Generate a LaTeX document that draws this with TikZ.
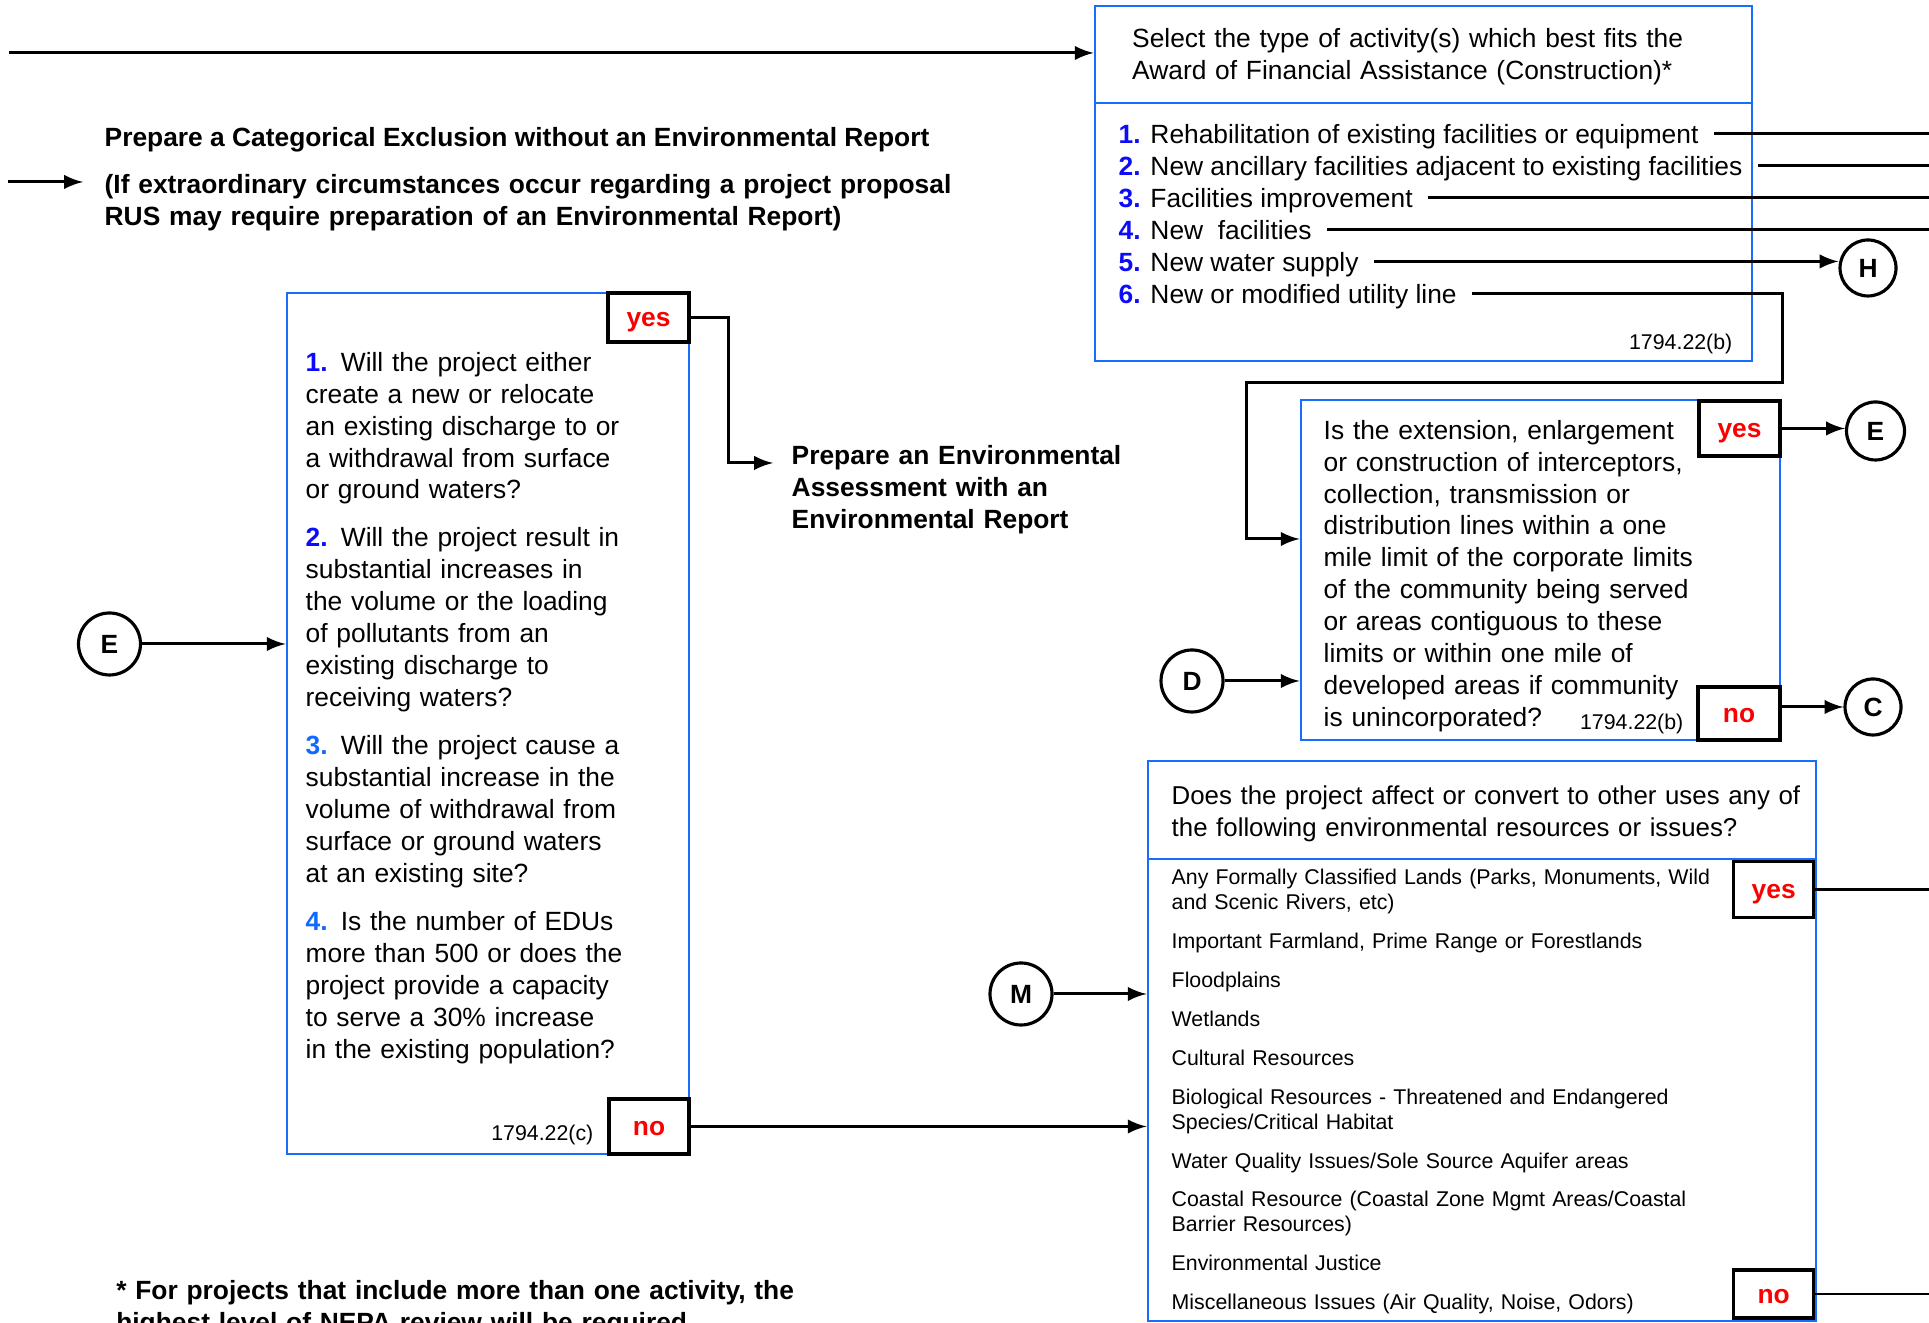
\documentclass[tikz,border=0pt]{standalone}
\usepackage{fontspec}
\setmainfont{Liberation Sans}
\usepackage{tikz}
\tikzset{>=latex}
\definecolor{boxblue}{RGB}{26,108,255}
\definecolor{numblue}{RGB}{12,12,250}
\definecolor{numlight}{RGB}{18,105,255}
\definecolor{ansred}{RGB}{250,0,0}
\tikzset{
	body/.style={font=\fontsize{7.5}{9.07}\selectfont, inner sep=0pt, anchor=base west},
	heavy/.style={body, font=\fontsize{7.5}{9.07}\selectfont\bfseries},
	fine/.style={font=\fontsize{6.07}{7.09}\selectfont, inner sep=0pt},
	item/.style={body, inner xsep=1.5mm, text height=0.8em, text depth=0.2em},
	bigbox/.style={draw=boxblue, line width=0.8pt, inner sep=0pt},
	answer/.style={draw, fill=white, line width=0.95pt, text=ansred, font=\fontsize{7.5}{9}\selectfont\bfseries, inner sep=0pt, minimum width=0.81cm, text height=0.53em, text depth=0pt},
	jump/.style={circle, draw, line width=0.9pt, font=\fontsize{7.5}{9}\selectfont\bfseries, inner sep=0pt},
	flow/.style={line width=0.85pt}
}
\newcommand{\num}[2][numblue]{\textcolor{#1}{\textbf{#2}}}

\begin{document}
\begin{tikzpicture}
	\useasboundingbox (0,0) rectangle (19.29,13.23);
	\coordinate (rim) at (19.40,0);

	% activity box
	\node[bigbox, minimum width=6.57cm, minimum height=3.55cm] (actbox) at (14.235,11.395) {};
	\draw[boxblue, line width=0.8pt] (actbox.west |- 0,12.20) -- (actbox.east |- 0,12.20);
	\node[body, text width=6cm, align=left] (acthead) at (11.315,12.755) {Select the type of activity(s) which best fits the\\ Award of Financial Assistance (Construction)*};
	\node[item] (i1) at (11.03,11.79) {\num{1.} Rehabilitation of existing facilities or equipment};
	\node[item] (i2) at (11.03,11.47) {\num{2.} New ancillary facilities adjacent to existing facilities};
	\node[item] (i3) at (11.03,11.15) {\num{3.} Facilities improvement};
	\node[item] (i4) at (11.03,10.83) {\num{4.} New\ \ facilities};
	\node[item] (i5) at (11.03,10.51) {\num{5.} New water supply};
	\node[item] (i6) at (11.03,10.19) {\num{6.} New or modified utility line};
	\node[fine, anchor=base east] (actref) at (17.33,9.735) {1794.22(b)};

	\coordinate (topin) at (0.09,12.70);
	\draw[flow, ->] (topin) -- (topin -| actbox.west);
	\draw[flow] (i1.east) -- (i1.east -| rim);
	\draw[flow] (i2.east) -- (i2.east -| rim);
	\draw[flow] (i3.east) -- (i3.east -| rim);
	\draw[flow] (i4.east) -- (i4.east -| rim);
	\node[jump, minimum size=0.56cm] (H) at (18.68,10.55) {H};
	\draw[flow, ->] (i5.east) -- (i5.east -| H.west);

	% categorical exclusion
	\node[heavy] (catex) at (1.04,11.76) {Prepare a Categorical Exclusion without an Environmental Report};
	\node[heavy, text width=9cm, align=left] (note) at (1.04,11.29) {(If extraordinary circumstances occur regarding a project proposal\\ RUS may require preparation of an Environmental Report)};
	\coordinate (notein) at (0.08,11.41);
	\draw[flow, ->] (notein) -- ([xshift=-2.1mm]note.west |- notein);

	% utility line box
	\node[bigbox, minimum width=4.79cm, minimum height=3.40cm] (extbox) at (15.405,7.53) {};
	\node[body, text width=3.9cm, align=left] (extq) at (13.23,8.837) {Is the extension, enlargement\\ or construction of interceptors,\\ collection, transmission or\\ distribution lines within a one\\ mile limit of the corporate limits\\ of the community being served\\ or areas contiguous to these\\ limits or within one mile of\\ developed areas if community\\ is unincorporated?};
	\node[fine, anchor=base east] (extref) at (16.84,5.935) {1794.22(b)};
	\node[answer, minimum height=0.55cm] (yes2) at (17.395,8.945) {yes};
	\node[answer, minimum height=0.53cm, minimum width=0.82cm] (no2) at (17.39,6.095) {no};
	\node[jump, minimum size=0.58cm] (E2) at (18.755,8.92) {E};
	\node[jump, minimum size=0.56cm] (C) at (18.73,6.16) {C};
	\node[jump, minimum size=0.62cm] (D) at (11.92,6.42) {D};

	\coordinate (bendA) at (17.82,9.40);
	\coordinate (bendB) at (12.46,9.40);
	\draw[flow, ->] (i6.east) -| (bendA) -- (bendB) |- ([yshift=0.31cm]extbox.west);
	\draw[flow, ->] (yes2.east) -- (yes2.east -| E2.west);
	\draw[flow, ->] (no2.east |- C) -- (C);
	\draw[flow, ->] (D) -- (D -| extbox.west);

	% water questions
	\node[bigbox, minimum width=4.02cm, minimum height=8.61cm] (questbox) at (4.88,5.995) {};
	\node[body, text width=3.6cm, align=left] (q1) at (3.05,9.515) {\num{1.} Will the project either\\ create a new or relocate\\ an existing discharge to or\\ a withdrawal from surface\\ or ground waters?};
	\node[body, text width=3.6cm, align=left] (q2) at (3.05,7.76) {\num{2.} Will the project result in\\ substantial increases in\\ the volume or the loading\\ of pollutants from an\\ existing discharge to\\ receiving waters?};
	\node[body, text width=3.6cm, align=left] (q3) at (3.05,5.68) {\num[numlight]{3.} Will the project cause a\\ substantial increase in the\\ volume of withdrawal from\\ surface or ground waters\\ at an existing site?};
	\node[body, text width=3.6cm, align=left] (q4) at (3.05,3.92) {\num[numlight]{4.} Is the number of EDUs\\ more than 500 or does the\\ project provide a capacity\\ to serve a 30\% increase\\ in the existing population?};
	\node[fine, anchor=base east] (questref) at (5.94,1.825) {1794.22(c)};
	\node[answer, minimum height=0.49cm] (yes1) at (6.485,10.055) {yes};
	\node[answer, minimum height=0.55cm, minimum width=0.80cm] (no1) at (6.49,1.965) {no};
	\node[jump, minimum size=0.62cm] (E1) at (1.095,6.79) {E};

	\node[heavy, text width=4cm, align=left] (ea) at (7.91,8.585) {Prepare an Environmental\\ Assessment with an\\ Environmental Report};
	\coordinate (eatip) at (7.73,8.60);
	\draw[flow, ->] (yes1.east) -- ++(0.38,0) |- (eatip);
	\draw[flow, ->] (E1) -- (E1 -| questbox.west);

	% resources box
	\node[bigbox, minimum width=6.68cm, minimum height=5.60cm] (envbox) at (14.82,2.82) {};
	\draw[boxblue, line width=0.8pt] (envbox.west |- 0,4.64) -- (envbox.east |- 0,4.64);
	\node[body, font=\fontsize{7.35}{8.9}\selectfont, text width=7cm, align=left] (envhead) at (11.71,5.18) {Does the project affect or convert to other uses any of\\ the following environmental resources or issues?};
	\node[fine, anchor=base west, text width=5.6cm, align=left] (envlist) at (11.71,4.38) {Any Formally Classified Lands (Parks, Monuments, Wild\\ and Scenic Rivers, etc)\\[3.97pt]
		Important Farmland, Prime Range or Forestlands\\[3.97pt]
		Floodplains\\[3.97pt]
		Wetlands\\[3.97pt]
		Cultural Resources\\[3.97pt]
		Biological Resources - Threatened and Endangered\\ Species/Critical Habitat\\[3.97pt]
		Water Quality Issues/Sole Source Aquifer areas\\[3.97pt]
		Coastal Resource (Coastal Zone Mgmt Areas/Coastal\\ Barrier Resources)\\[3.97pt]
		Environmental Justice\\[3.97pt]
		Miscellaneous Issues (Air Quality, Noise, Odors)};
	\node[answer, minimum height=0.56cm, minimum width=0.80cm] (yes3) at (17.737,4.334) {yes};
	\node[answer, minimum height=0.48cm, minimum width=0.80cm] (no3) at (17.737,0.29) {no};
	\node[jump, minimum size=0.62cm] (M) at (10.21,3.29) {M};

	\draw[flow] (yes3.east) -- (yes3.east -| rim);
	\draw[flow] (no3.east) -- (no3.east -| rim);
	\draw[flow, ->] (M) -- (M -| envbox.west);
	\draw[flow, ->] (no1.east) -- (no1.east -| envbox.west);

	\node[heavy, text width=9cm, align=left] (foot) at (1.156,0.23) {* For projects that include more than one activity, the\\ highest level of NEPA review will be required.};
\end{tikzpicture}
\end{document}
